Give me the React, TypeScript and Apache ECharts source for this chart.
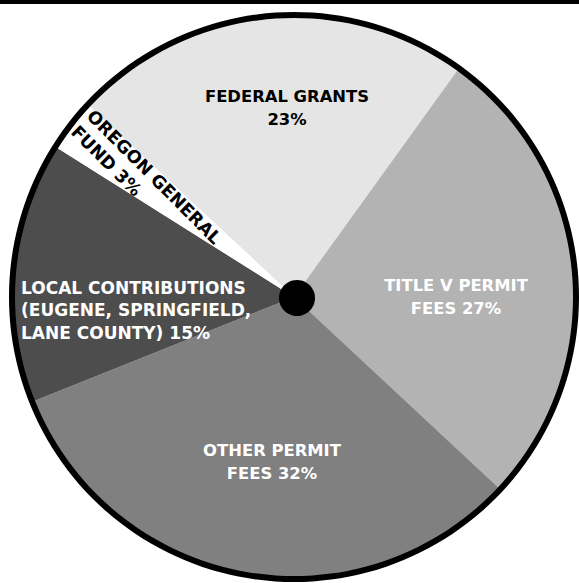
import React, { useEffect, useRef } from "react";
import * as echarts from "echarts";

const categories = [
  "FEDERAL GRANTS",
  "TITLE V PERMIT FEES",
  "OTHER PERMIT FEES",
  "LOCAL CONTRIBUTIONS (EUGENE, SPRINGFIELD, LANE COUNTY)",
  "OREGON GENERAL FUND",
];
const values = [23, 27, 32, 15, 3];
const colors = ["#e5e5e5", "#b3b3b3", "#808080", "#4d4d4d", "#ffffff"];
const labelLines = [
  ["FEDERAL GRANTS", "23%"],
  ["TITLE V PERMIT", "FEES 27%"],
  ["OTHER PERMIT", "FEES 32%"],
  ["LOCAL CONTRIBUTIONS", "(EUGENE, SPRINGFIELD,", "LANE COUNTY) 15%"],
  ["OREGON GENERAL", "FUND 3%"],
];
const labelColors = ["#000", "#fff", "#fff", "#fff", "#000"];

const FONT = "'DejaVu Sans', sans-serif";

export default function App() {
  const ref = useRef<HTMLDivElement>(null);
  useEffect(() => {
    if (!ref.current) return;
    const chart = echarts.init(ref.current, null, { renderer: "svg" });
    const cx = 294;
    const cy = 297;
    const labelPos: any[] = [
      { x: 287, y: 108, align: "center", rot: 0, size: 16.4 },
      { x: 456, y: 297, align: "center", rot: 0, size: 16.4 },
      { x: 272, y: 462, align: "center", rot: 0, size: 16.4 },
      { x: 21, y: 310, align: "left", rot: 0, size: 17 },
      { x: 98, y: 105, align: "left", rot: -Math.PI / 4, size: 17.5 },
    ];
    const graphics: any[] = [
      {
        type: "rect",
        shape: { x: 0, y: 0, width: 579, height: 4 },
        style: { fill: "#000" },
        z: 10,
      },
    ];
    labelLines.forEach((lines, i) => {
      const p = labelPos[i];
      graphics.push({
        type: "text",
        x: p.x,
        y: p.y,
        rotation: p.rot,
        z: 20,
        style: {
          text: lines.join("\n"),
          fill: labelColors[i],
          font: `bold ${p.size}px ${FONT}`,
          lineHeight: 22.5,
          textAlign: p.align,
          textVerticalAlign: p.rot === 0 ? "middle" : "top",
        },
      });
    });
    chart.setOption({
      animation: false,
      backgroundColor: "#fff",
      graphic: graphics,
      series: [
        {
          type: "pie",
          center: [cx, cy],
          radius: [0, 282],
          startAngle: 137,
          clockwise: true,
          silent: true,
          label: { show: false },
          labelLine: { show: false },
          itemStyle: { borderWidth: 0 },
          data: categories.map((c, i) => ({
            name: c,
            value: values[i],
            itemStyle: { color: colors[i] },
          })),
        },
        {
          type: "pie",
          center: [cx, cy],
          radius: [279, 285],
          silent: true,
          label: { show: false },
          labelLine: { show: false },
          data: [{ value: 1, itemStyle: { color: "#000" } }],
        },
        {
          type: "pie",
          center: [cx + 3, cy + 1],
          radius: [0, 18],
          silent: true,
          label: { show: false },
          labelLine: { show: false },
          data: [{ value: 1, itemStyle: { color: "#000" } }],
        },
      ],
    });
    return () => chart.dispose();
  }, []);
  return (
    <div
      ref={ref}
      style={{ position: "absolute", left: 0, top: 0, width: 579, height: 583 }}
    />
  );
}
